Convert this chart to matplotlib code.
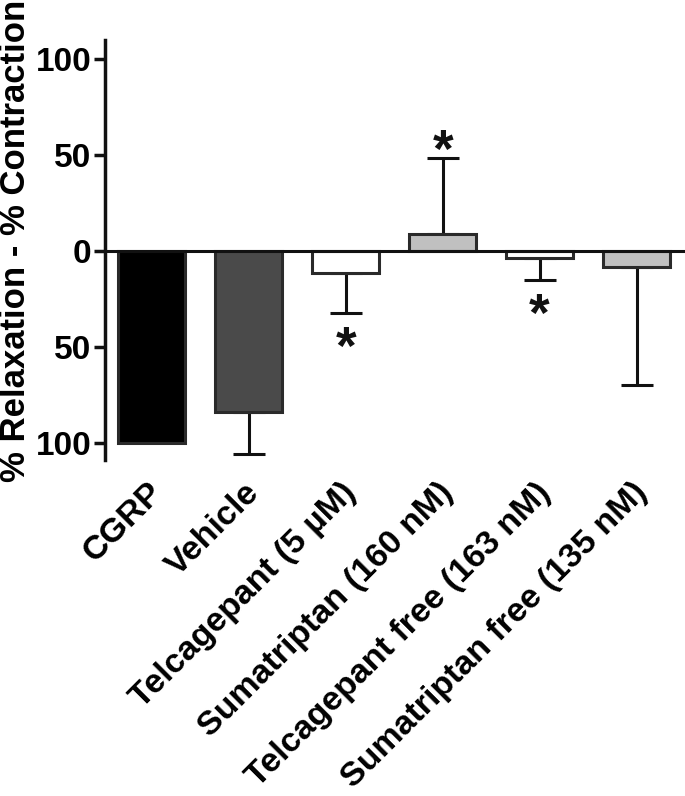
import matplotlib
matplotlib.use("Agg")
import matplotlib.pyplot as plt
from matplotlib.transforms import ScaledTranslation
import numpy as np

categories = ["CGRP", "Vehicle", "Telcagepant (5 µM)", "Sumatriptan (160 nM)",
              "Telcagepant free (163 nM)", "Sumatriptan free (135 nM)"]
values = [-100, -84, -11.5, 8.8, -3.7, -8.5]
errors = [0, 22, 21, 39.5, 11.5, 61.5]
colors = ["#000000", "#4a4a4a", "#ffffff", "#c0c0c0", "#ffffff", "#c0c0c0"]
significant = [False, False, True, True, True, False]
ytick_vals = [-100, -50, 0, 50, 100]
ytick_labels = ["100", "50", "0", "50", "100"]

plt.rcParams['font.family'] = ['Liberation Sans', 'DejaVu Sans']
plt.rcParams['font.weight'] = 'bold'

fig = plt.figure(figsize=(6.85, 7.96), dpi=100)
ax = fig.add_axes([0.153, 0.422, 0.847, 0.528])

x = np.arange(len(categories))
ax.bar(x, values, width=0.69, color=colors, edgecolor="#2a2a2a", linewidth=2.2, zorder=3)

for xi, v, e in zip(x, values, errors):
    if e > 0:
        d = np.sign(v)
        ax.errorbar([xi], [v], yerr=[[e if d < 0 else 0], [e if d > 0 else 0]],
                    fmt='none', ecolor='#111111', elinewidth=2.2, capsize=11.5,
                    capthick=2.2, zorder=2)

star_fs = 38
for xi, v, e, s in zip(x, values, errors, significant):
    if s:
        d = np.sign(v)
        ypos = v + d * (e + 11)
        ax.annotate("*", xy=(xi, ypos), xytext=(0, -0.56 * star_fs),
                    textcoords='offset points', ha='center', va='baseline',
                    fontsize=star_fs, fontweight='bold', color='#111111')

ax.axhline(0, color='#111111', linewidth=2.2, zorder=4)
ax.set_xlim(-0.485, 5.5)
ax.set_ylim(-109, 110)

for s in ['top', 'right', 'bottom']:
    ax.spines[s].set_visible(False)
ax.spines['left'].set_linewidth(2.5)
ax.spines['left'].set_color('#111111')

ax.set_yticks(ytick_vals)
ax.set_yticklabels(ytick_labels, fontsize=24, fontweight='bold')
ax.tick_params(axis='y', length=8, width=2.5, color='#111111', pad=1.5)

ax.set_xticks(x)
ax.set_xticklabels(categories, rotation=45, ha='right', va='top',
                   rotation_mode='anchor', fontsize=24.5, fontweight='bold')
ax.tick_params(axis='x', length=0, pad=12)
offset = ScaledTranslation(-5 / 100, 0, fig.dpi_scale_trans)
for lab in ax.get_xticklabels():
    lab.set_transform(lab.get_transform() + offset)

ax.set_ylabel("% Relaxation - % Contraction", fontsize=25, fontweight='bold')
ax.yaxis.set_label_coords(-0.126, 0.522)

fig.savefig("out.png", dpi=100)
